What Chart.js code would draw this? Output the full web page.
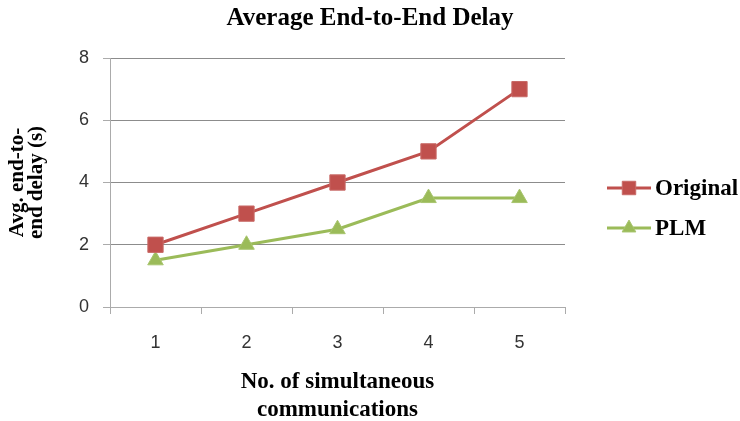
<!DOCTYPE html>
<html>
<head>
<meta charset="utf-8">
<script src="https://cdn.jsdelivr.net/npm/chart.js@4.4.0/dist/chart.umd.min.js"></script>
<style>
  html, body { margin: 0; padding: 0; background: #ffffff; }
  #wrap { width: 740px; height: 421px; }
</style>
</head>
<body>
<div id="wrap"><canvas id="c" width="740" height="421"></canvas></div>
<script>
// ---- data ----
const categories = ['1', '2', '3', '4', '5'];
const seriesNames = ['Original', 'PLM'];
const originalValues = [2, 3, 4, 5, 7];
const plmValues = [1.5, 2, 2.5, 3.5, 3.5];
const yMin = 0;
const yMax = 8;
const yStep = 2;
const chartTitle = 'Average End-to-End Delay';
const xTitle = ['No. of simultaneous', 'communications'];
const yTitle = ['Avg. end-to-', 'end delay (s)'];

// ---- styling ----
const RED = '#C0504D';
const GREEN = '#9BBB59';
const SERIF = "'Liberation Serif', 'Times New Roman', serif";
const SANS = "'Liberation Sans', Arial, sans-serif";
const AXIS_GREY = '#ababab';
const GRID_GREY = '#8c8c8c';

const sideLegend = {
  id: 'sideLegend',
  afterDraw(chart) {
    const ctx = chart.ctx;
    const rows = [188, 228];
    chart.data.datasets.forEach((ds, i) => {
      const y = rows[i];
      ctx.save();
      ctx.strokeStyle = ds.borderColor;
      ctx.lineWidth = ds.borderWidth;
      ctx.beginPath();
      ctx.moveTo(607, y);
      ctx.lineTo(651, y);
      ctx.stroke();
      ctx.fillStyle = ds.pointBackgroundColor;
      ctx.strokeStyle = ds.pointBorderColor;
      ctx.lineWidth = 1;
      Chart.helpers.drawPoint(ctx, {
        pointStyle: ds.pointStyle,
        radius: ds.pointRadius * 0.88,
        borderWidth: 1,
        rotation: 0
      }, 629, y);
      ctx.fillStyle = '#000';
      ctx.font = 'bold 23px ' + SERIF;
      ctx.textAlign = 'left';
      ctx.textBaseline = 'middle';
      ctx.fillText(ds.label, 655, y + 1);
      ctx.restore();
    });
  }
};

new Chart(document.getElementById('c'), {
  type: 'line',
  data: {
    labels: categories,
    datasets: [
      {
        label: seriesNames[0],
        data: originalValues,
        borderColor: RED,
        backgroundColor: RED,
        borderWidth: 3,
        pointStyle: 'rect',
        pointRadius: 10.8,
        pointBackgroundColor: RED,
        pointBorderColor: '#c86a67',
        pointBorderWidth: 1,
        tension: 0,
        yAxisID: 'y'
      },
      {
        label: seriesNames[1],
        data: plmValues,
        borderColor: GREEN,
        backgroundColor: GREEN,
        borderWidth: 3,
        pointStyle: 'triangle',
        pointRadius: 9,
        pointBackgroundColor: GREEN,
        pointBorderColor: '#a8c56f',
        pointBorderWidth: 1,
        tension: 0,
        yAxisID: 'y'
      }
    ]
  },
  options: {
    responsive: false,
    animation: false,
    devicePixelRatio: 1,
    layout: { padding: 0 },
    plugins: {
      legend: { display: false },
      tooltip: { enabled: false },
      title: {
        display: true,
        text: chartTitle,
        color: '#000',
        font: { family: SERIF, size: 25, weight: 'bold', lineHeight: '24px' },
        padding: { top: 7, bottom: 27 }
      }
    },
    scales: {
      x: {
        type: 'category',
        offset: true,
        grid: {
          display: true,
          offset: true,
          drawOnChartArea: false,
          drawTicks: true,
          tickLength: 7,
          color: AXIS_GREY
        },
        border: { display: true, color: AXIS_GREY, width: 1 },
        ticks: {
          color: '#333',
          font: { family: SANS, size: 18 },
          padding: 18,
          maxRotation: 0
        },
        title: {
          display: true,
          text: xTitle,
          color: '#000',
          font: { family: SERIF, size: 23, weight: 'bold', lineHeight: '28px' },
          padding: { top: 0, bottom: -3 }
        },
        afterFit(scale) { scale.height = 114; }
      },
      y: {
        type: 'linear',
        position: 'left',
        min: yMin,
        max: yMax,
        ticks: {
          stepSize: yStep,
          color: '#333',
          font: { family: SANS, size: 18 },
          padding: 14
        },
        grid: {
          drawTicks: true,
          tickLength: 7,
          color: (c) => (c.tick && c.tick.value === 0 ? AXIS_GREY : GRID_GREY),
          tickColor: AXIS_GREY
        },
        border: { display: true, color: AXIS_GREY, width: 1 },
        title: {
          display: true,
          text: yTitle,
          color: '#000',
          font: { family: SERIF, size: 21, weight: 'bold', lineHeight: '19px' },
          padding: { top: 8, bottom: 0 }
        },
        afterFit(scale) { scale.width = 110; }
      },
      legendSpace: {
        type: 'linear',
        position: 'right',
        display: true,
        grid: { display: false, drawTicks: false },
        border: { display: false },
        ticks: { display: false },
        afterFit(scale) { scale.width = 175; }
      }
    }
  },
  plugins: [sideLegend]
});
</script>
</body>
</html>
